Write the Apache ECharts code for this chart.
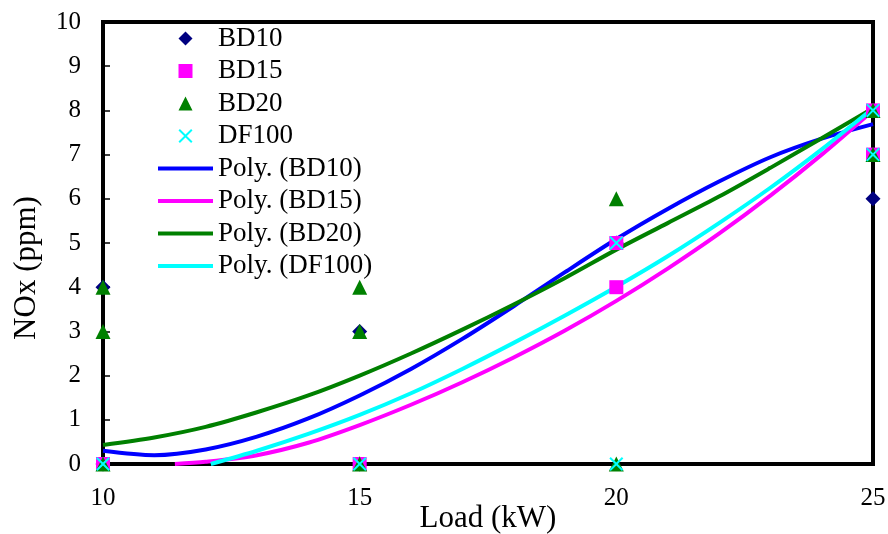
<!DOCTYPE html>
<html>
<head>
<meta charset="utf-8">
<script src="https://cdn.jsdelivr.net/npm/echarts@6/dist/echarts.min.js"></script>
<style>
  html, body { margin: 0; padding: 0; background: #fff; }
  #chart { width: 888px; height: 534px; }
</style>
</head>
<body>
<div id="chart"></div>
<script>
// measured points (Load kW, NOx ppm)
var bd10Pts = [[10, 4], [10, 0], [15, 3], [15, 0], [20, 5], [25, 6]];
var bd15Pts = [[10, 0], [15, 0], [20, 5], [20, 4], [25, 8], [25, 7]];
var bd20Pts = [[10, 4], [10, 3], [10, 0], [15, 4], [15, 3], [15, 0], [20, 6], [20, 0], [25, 8], [25, 7]];
var df100Pts = [[10, 0], [15, 0], [20, 0], [20, 5], [25, 8], [25, 7]];

// polynomial trendlines
var polyX = [10, 11, 12, 13, 14, 15, 16, 17, 18, 19, 20, 21, 22, 23, 24, 25];
var polyBD10 = [0.30, 0.20, 0.33, 0.62, 1.03, 1.55, 2.15, 2.83, 3.57, 4.34, 5.09, 5.77, 6.39, 6.94, 7.36, 7.69];
var polyBD20 = [0.43, 0.60, 0.84, 1.17, 1.55, 2.00, 2.50, 3.04, 3.61, 4.21, 4.85, 5.45, 6.05, 6.70, 7.37, 8.05];
var polyX15 = [11.4, 12, 13, 14, 15, 16, 17, 18, 19, 20, 21, 22, 23, 24, 25];
var polyBD15 = [0, 0.05, 0.20, 0.48, 0.88, 1.34, 1.85, 2.41, 3.02, 3.69, 4.42, 5.21, 6.07, 7.00, 8.00];
var polyXdf = [12.1, 13, 14, 15, 16, 17, 18, 19, 20, 21, 22, 23, 24, 25];
var polyDF100 = [0, 0.30, 0.68, 1.11, 1.60, 2.15, 2.74, 3.36, 4.01, 4.70, 5.45, 6.25, 7.12, 8.05];

var xTicks = [10, 15, 20, 25];

function pairs(xs, ys) {
  return xs.map(function (x, i) { return [x, ys[i]]; });
}

var diamondPath = "path://M5,0L10,5L5,10L0,5Z";
var squarePath = "path://M0,0H10V10H0Z";
var trianglePath = "path://M5,0L10,10L0,10Z";
var crossPath = "path://M0,1L1,0L5,4L9,0L10,1L6,5L10,9L9,10L5,6L1,10L0,9L4,5Z";
var barPath = "path://M0,0H55V4H0Z";
var font = "Liberation Serif";

var myChart = echarts.init(document.getElementById("chart"));

function trend(name, xs, ys, color) {
  return {
    name: name,
    type: "line",
    smooth: 0.3,
    symbol: "none",
    clip: true,
    z: 2,
    lineStyle: { color: color, width: 4 },
    itemStyle: { color: color },
    data: pairs(xs, ys),
  };
}

function dots(name, pts, symbol, size, color, z) {
  return {
    name: name,
    type: "scatter",
    symbol: symbol,
    symbolSize: size,
    z: z,
    itemStyle: { color: color, opacity: 1 },
    data: pts,
  };
}

var option = {
  animation: false,
  textStyle: { fontFamily: font, color: "#000" },
  legend: {
    orient: "vertical",
    left: 158,
    top: 25,
    padding: 0,
    itemWidth: 55,
    itemHeight: 14,
    itemGap: 5.5,
    symbolKeepAspect: true,
    textStyle: { fontFamily: font, fontSize: 27, color: "#000" },
    data: [
      { name: "BD10", icon: diamondPath },
      { name: "BD15", icon: squarePath },
      { name: "BD20", icon: trianglePath },
      { name: "DF100", icon: crossPath },
      { name: "Poly. (BD10)", icon: barPath },
      { name: "Poly. (BD15)", icon: barPath },
      { name: "Poly. (BD20)", icon: barPath },
      { name: "Poly. (DF100)", icon: barPath },
    ],
  },
  grid: {
    left: 103,
    right: 15,
    top: 22,
    bottom: 70,
    outerBoundsMode: "none",
    containLabel: false,
    show: true,
    borderColor: "#000",
    borderWidth: 4,
  },
  xAxis: {
    type: "value",
    min: 10,
    max: 25,
    interval: 5,
    name: "Load (kW)",
    nameLocation: "middle",
    nameGap: 55,
    nameMoveOverlap: false,
    nameTextStyle: { fontFamily: font, fontSize: 31, color: "#000", verticalAlign: "middle" },
    axisLine: { show: true, lineStyle: { color: "#000", width: 4 } },
    axisTick: { show: false },
    splitLine: { show: false },
    axisLabel: {
      margin: 22,
      fontFamily: font,
      fontSize: 25,
      color: "#000",
      formatter: function (v) { return xTicks.indexOf(v) >= 0 ? String(v) : ""; },
    },
  },
  yAxis: {
    type: "value",
    min: 0,
    max: 10,
    interval: 1,
    name: "NOx (ppm)",
    nameLocation: "middle",
    nameGap: 76,
    nameMoveOverlap: false,
    nameTextStyle: { fontFamily: font, fontSize: 31, color: "#000", verticalAlign: "middle", padding: [0, 50, 0, 0] },
    axisLine: { show: true, lineStyle: { color: "#000", width: 4 } },
    axisTick: { show: true, inside: true, length: 7, lineStyle: { color: "#000", width: 1.5 } },
    splitLine: { show: false },
    axisLabel: { margin: 22, fontFamily: font, fontSize: 25, color: "#000" },
  },
  series: [
    trend("Poly. (BD10)", polyX, polyBD10, "#0000ff"),
    trend("Poly. (BD15)", polyX15, polyBD15, "#ff00ff"),
    trend("Poly. (BD20)", polyX, polyBD20, "#008000"),
    trend("Poly. (DF100)", polyXdf, polyDF100, "#00ffff"),
    dots("BD10", bd10Pts, diamondPath, 15, "#000080", 5),
    dots("BD15", bd15Pts, squarePath, 14, "#ff00ff", 6),
    dots("BD20", bd20Pts, trianglePath, 15, "#008000", 7),
    dots("DF100", df100Pts, crossPath, 14, "#00ffff", 8),
  ],
};

myChart.setOption(option);
window.addEventListener("resize", function () {
  myChart.resize();
});
</script>
</body>
</html>
